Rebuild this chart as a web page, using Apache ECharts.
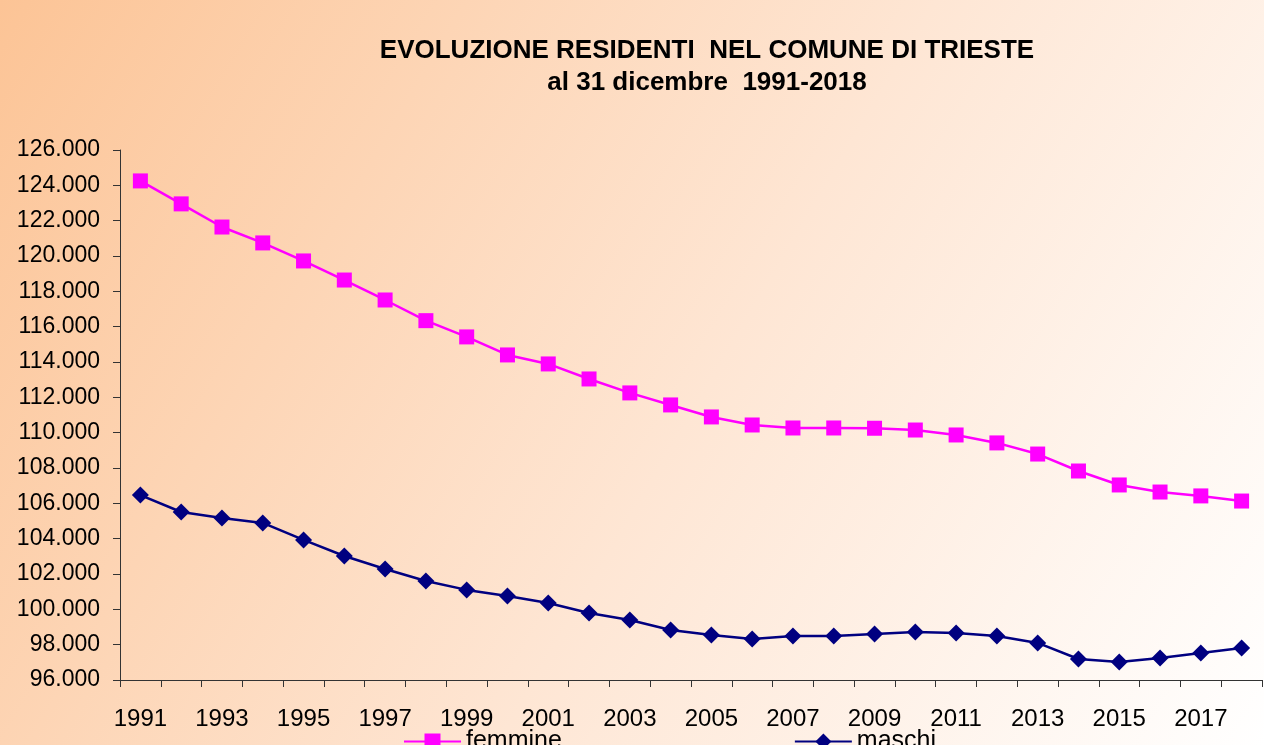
<!DOCTYPE html>
<html>
<head>
<meta charset="utf-8">
<script src="https://cdn.jsdelivr.net/npm/echarts@6/dist/echarts.min.js"></script>
<style>
html,body{margin:0;padding:0;}
#main{width:1264px;height:745px;}
</style>
</head>
<body>
<div id="main"></div>
<script>
var years = ['1991','1992','1993','1994','1995','1996','1997','1998','1999','2000',
	'2001','2002','2003','2004','2005','2006','2007','2008','2009','2010',
	'2011','2012','2013','2014','2015','2016','2017','2018'];
var femmine = [124250,122950,121640,120740,119720,118640,117510,116340,115420,114400,
	113890,113040,112250,111570,110890,110435,110265,110265,110250,110150,
	109870,109420,108790,107830,107040,106640,106420,106130];
var maschi = [106470,105510,105170,104890,103930,103020,102280,101600,101100,100760,
	100360,99790,99400,98830,98550,98320,98490,98490,98600,98720,
	98660,98490,98100,97190,97020,97250,97530,97810];
var titleLines = ['EVOLUZIONE RESIDENTI  NEL COMUNE DI TRIESTE', 'al 31 dicembre  1991-2018'];

var myChart = echarts.init(document.getElementById('main'));
var font = 'Liberation Sans, Arial, sans-serif';
var option = {
	animation: false,
	backgroundColor: new echarts.graphic.LinearGradient(0, 0, 1, 1, [
		{offset: 0, color: '#fcc496'},
		{offset: 0.55, color: '#fee6d4'},
		{offset: 1, color: '#ffffff'}
	]),
	title: {
		text: titleLines.join('\n'),
		left: 702,
		textAlign: 'center',
		top: 30,
		textStyle: {
			fontFamily: font,
			fontWeight: 'bold',
			fontSize: 26,
			lineHeight: 32,
			color: '#000'
		}
	},
	legend: {
		bottom: -14,
		left: 398,
		itemGap: 232,
		itemWidth: 57,
		itemHeight: 20,
		textStyle: {fontFamily: font, fontSize: 25, color: '#000'},
		data: ['femmine', 'maschi']
	},
	grid: {left: 120, right: 2, top: 150, bottom: 65},
	xAxis: {
		type: 'category',
		data: years,
		boundaryGap: true,
		axisLine: {lineStyle: {color: '#333', width: 1}},
		axisTick: {show: true, length: 7, interval: 0, lineStyle: {color: '#333'}},
		axisLabel: {
			interval: 1,
			margin: 27,
			fontFamily: font,
			fontSize: 24,
			color: '#000'
		},
		splitLine: {show: false}
	},
	yAxis: {
		type: 'value',
		min: 96000,
		max: 126000,
		interval: 2000,
		axisLine: {show: true, lineStyle: {color: '#333', width: 1}},
		axisTick: {show: true, length: 7, lineStyle: {color: '#333'}},
		axisLabel: {
			margin: 20,
			fontFamily: font,
			fontSize: 23,
			color: '#000',
			formatter: function (v) {
				return String(v).replace(/\B(?=(\d{3})+(?!\d))/g, '.');
			}
		},
		splitLine: {show: false}
	},
	series: [
		{
			name: 'femmine',
			type: 'line',
			data: femmine,
			symbol: 'rect',
			symbolSize: 15,
			color: '#ff00ff',
			lineStyle: {width: 2.5, color: '#ff00ff'},
			itemStyle: {color: '#ff00ff'}
		},
		{
			name: 'maschi',
			type: 'line',
			data: maschi,
			symbol: 'diamond',
			symbolSize: 17,
			color: '#000080',
			lineStyle: {width: 2.5, color: '#000080'},
			itemStyle: {color: '#000080'}
		}
	]
};
myChart.setOption(option);
</script>
</body>
</html>
